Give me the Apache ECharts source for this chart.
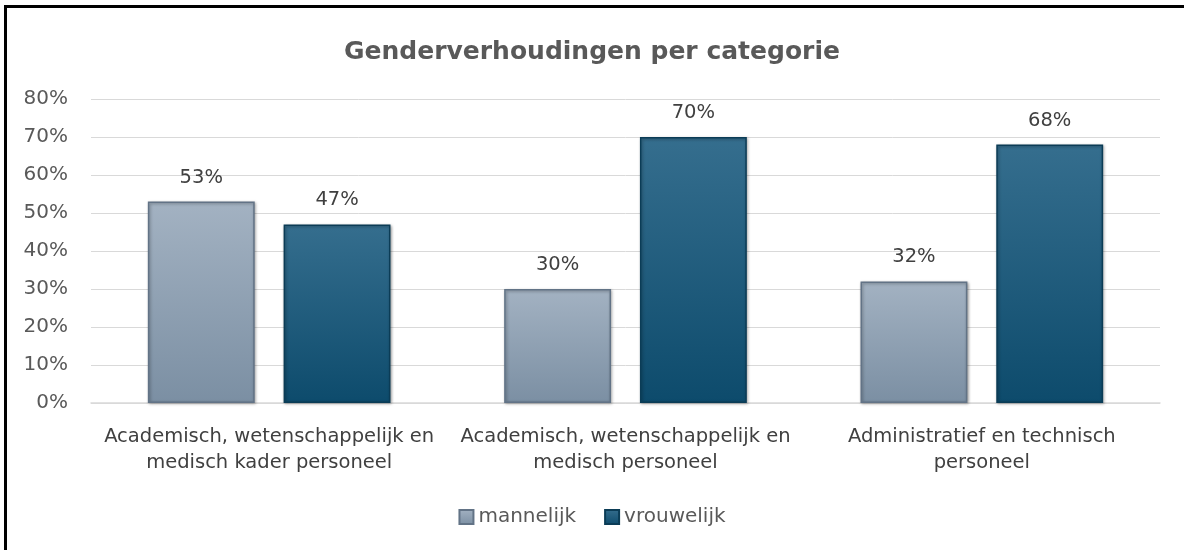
<!DOCTYPE html>
<html>
<head>
<meta charset="utf-8">
<script src="https://cdn.jsdelivr.net/npm/echarts@6/dist/echarts.min.js"></script>
<style>
  html, body { margin: 0; padding: 0; background: #fff; }
  .frame {
    position: absolute; left: 4px; top: 5px; width: 1180px; height: 545px;
    border-left: 3px solid #000; border-top: 3px solid #000; box-sizing: border-box;
  }
  #chart { width: 1184px; height: 550px; }
</style>
</head>
<body>
<div class="frame"></div>
<div id="chart"></div>
<script>
  const categories = [
    'Academisch, wetenschappelijk en\nmedisch kader personeel',
    'Academisch, wetenschappelijk en\nmedisch personeel',
    'Administratief en technisch\npersoneel'
  ];
  const mannelijk = [0.53, 0.30, 0.32];
  const vrouwelijk = [0.47, 0.70, 0.68];

  const myEChart = echarts.init(document.getElementById('chart'));
  const font = '"DejaVu Sans", "Noto Sans", sans-serif';
  const pct = v => Math.round(v * 100) + '%';

  const option = {
    textStyle: { fontFamily: font },
    title: {
      text: 'Genderverhoudingen per categorie',
      left: 'center',
      top: 35,
      textStyle: { color: '#595959', fontSize: 25, fontWeight: 'bold', fontFamily: font }
    },
    legend: {
      bottom: 18,
      left: 'center',
      itemWidth: 14,
      itemHeight: 14,
      itemGap: 28,
      icon: 'rect',
      textStyle: { color: '#595959', fontSize: 20, fontFamily: font },
      data: ['mannelijk', 'vrouwelijk']
    },
    grid: { left: 91, right: 24, top: 99, bottom: 147 },
    xAxis: {
      type: 'category',
      data: categories,
      axisTick: { show: false },
      axisLine: { lineStyle: { color: '#d9d9d9', width: 1.5 } },
      axisLabel: {
        interval: 0,
        margin: 21,
        color: '#404040',
        fontSize: 19.5,
        lineHeight: 26,
        fontFamily: font
      }
    },
    yAxis: {
      type: 'value',
      min: 0,
      max: 0.8,
      interval: 0.1,
      axisLine: { show: false },
      axisTick: { show: false },
      splitLine: { lineStyle: { color: '#d9d9d9', width: 1 } },
      axisLabel: {
        formatter: pct,
        margin: 23,
        color: '#595959',
        fontSize: 20,
        fontFamily: font
      }
    },
    series: [
      {
        name: 'mannelijk',
        type: 'bar',
        data: mannelijk,
        barWidth: '30%',
        barGap: '27%',
        itemStyle: {
          color: new echarts.graphic.LinearGradient(0, 0, 0, 1, [
            { offset: 0, color: '#a3b2c2' },
            { offset: 1, color: '#7b8fa3' }
          ]),
          borderColor: '#627386',
          borderWidth: 1.5,
          shadowColor: 'rgba(0,0,0,0.35)',
          shadowBlur: 3,
          shadowOffsetX: 1,
          shadowOffsetY: 1
        },
        label: {
          show: true,
          position: 'top',
          distance: 14,
          formatter: p => pct(p.value),
          color: '#404040',
          fontSize: 19.5,
          fontFamily: font
        }
      },
      {
        name: 'vrouwelijk',
        type: 'bar',
        data: vrouwelijk,
        barWidth: '30%',
        itemStyle: {
          color: new echarts.graphic.LinearGradient(0, 0, 0, 1, [
            { offset: 0, color: '#356e8e' },
            { offset: 1, color: '#0d4b6c' }
          ]),
          borderColor: '#0b3c56',
          borderWidth: 1.5,
          shadowColor: 'rgba(0,0,0,0.35)',
          shadowBlur: 3,
          shadowOffsetX: 1,
          shadowOffsetY: 1
        },
        label: {
          show: true,
          position: 'top',
          distance: 14,
          formatter: p => pct(p.value),
          color: '#404040',
          fontSize: 19.5,
          fontFamily: font
        }
      }
    ]
  };
  myEChart.setOption(option);
</script>
</body>
</html>
